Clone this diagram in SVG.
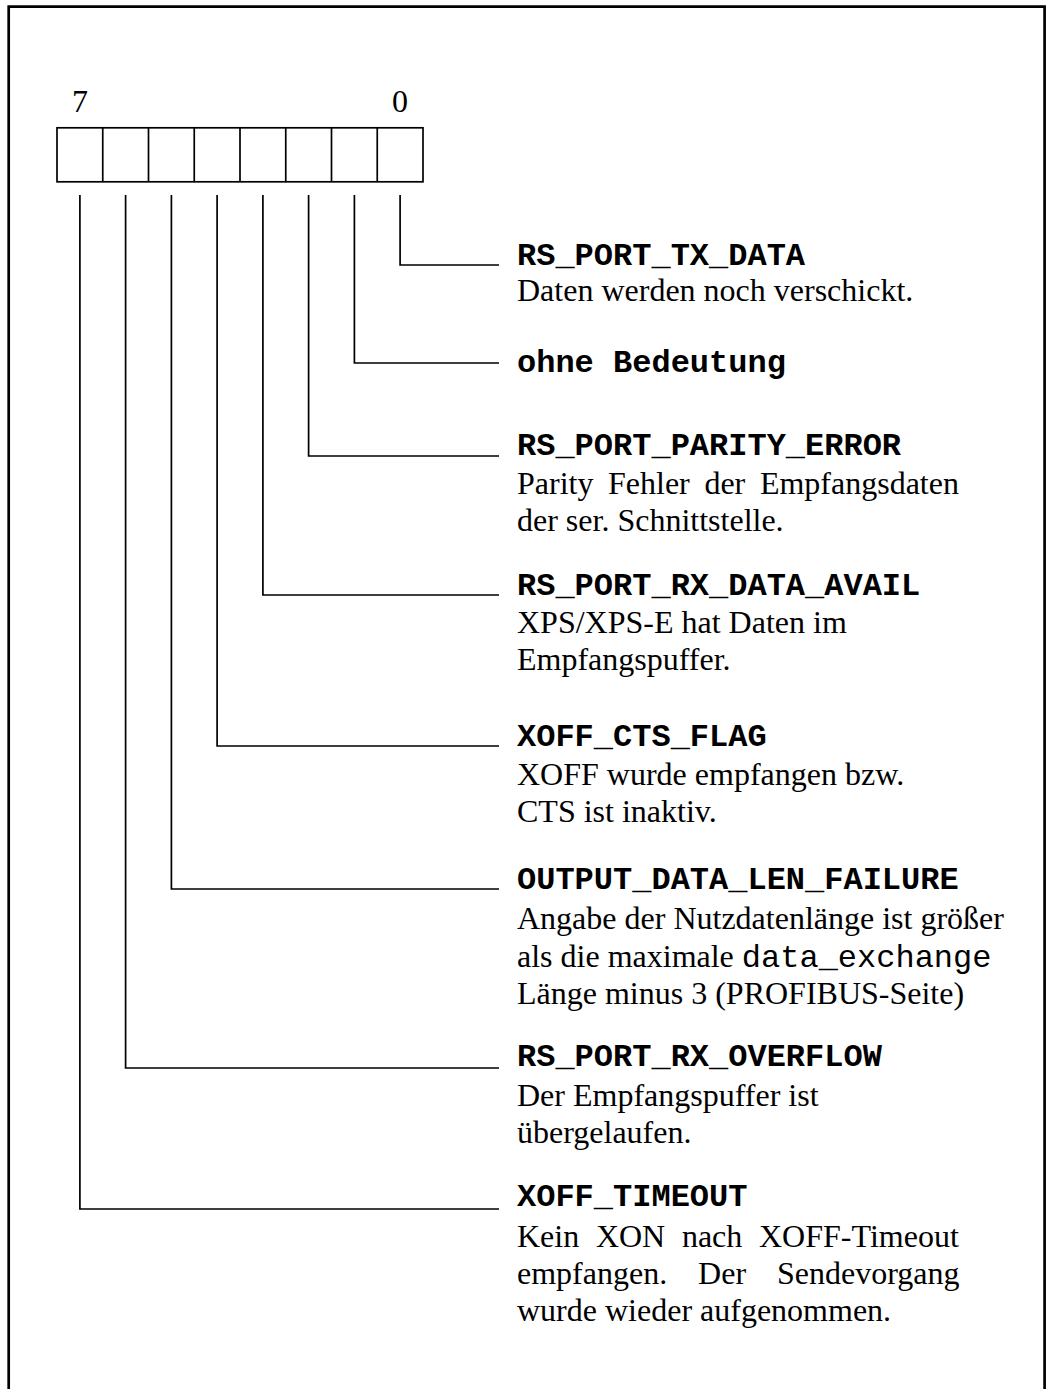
<svg xmlns="http://www.w3.org/2000/svg" width="1046" height="1389" viewBox="0 0 1046 1389">
<style>
.frame{fill:none;stroke:#000;stroke-width:2.7}
.reg{fill:#fff;stroke:#000;stroke-width:1.7}
.conn{fill:none;stroke:#000;stroke-width:1.7}
.mono{font-family:"Liberation Mono","Courier New",monospace;font-weight:bold;font-size:32px;fill:#000}
.monor{font-family:"Liberation Mono","Courier New",monospace;font-size:32px}
.serif{font-family:"Liberation Serif","Times New Roman",serif;font-size:32px;fill:#000}
</style>
<rect width="1046" height="1389" fill="#fff"/>
<path class="frame" d="M8.7,1392 V6.7 H1044.6 V1392"/>
<g id="register">
<rect class="reg" x="57" y="127.8" width="366" height="54"/>
<path class="reg" d="M102.75,127.8V181.8 M148.5,127.8V181.8 M194.25,127.8V181.8 M240,127.8V181.8 M285.75,127.8V181.8 M331.5,127.8V181.8 M377.25,127.8V181.8"/>
<text class="serif" x="79.9" y="112" text-anchor="middle">7</text>
<text class="serif" x="400.1" y="112" text-anchor="middle">0</text>
</g>
<g id="connectors">
<path class="conn" d="M400.1,195 V265 H499"/>
<path class="conn" d="M354.4,195 V363 H499"/>
<path class="conn" d="M308.6,195 V456 H499"/>
<path class="conn" d="M262.9,195 V595 H499"/>
<path class="conn" d="M217.1,195 V746 H499"/>
<path class="conn" d="M171.4,195 V889 H499"/>
<path class="conn" d="M125.6,195 V1068 H499"/>
<path class="conn" d="M79.9,195 V1209 H499"/>
</g>
<g id="bit0">
<text class="mono" x="517" y="265">RS_PORT_TX_DATA</text>
<text class="serif" x="517" y="301">Daten werden noch verschickt.</text>
</g>
<g id="bit1">
<text class="mono" x="517" y="372">ohne Bedeutung</text>
</g>
<g id="bit2">
<text class="mono" x="517" y="455">RS_PORT_PARITY_ERROR</text>
<text class="serif" y="494"><tspan x="517">Parity</tspan><tspan x="608">Fehler</tspan><tspan x="704.4">der</tspan><tspan x="759.9">Empfangsdaten</tspan></text>
<text class="serif" x="517" y="531">der ser. Schnittstelle.</text>
</g>
<g id="bit3">
<text class="mono" x="517" y="595">RS_PORT_RX_DATA_AVAIL</text>
<text class="serif" x="517" y="633">XPS/XPS-E hat Daten im</text>
<text class="serif" x="517" y="670">Empfangspuffer.</text>
</g>
<g id="bit4">
<text class="mono" x="517" y="746">XOFF_CTS_FLAG</text>
<text class="serif" x="517" y="785">XOFF wurde empfangen bzw.</text>
<text class="serif" x="517" y="822">CTS ist inaktiv.</text>
</g>
<g id="bit5">
<text class="mono" x="517" y="889">OUTPUT_DATA_LEN_FAILURE</text>
<text class="serif" x="517" y="929">Angabe der Nutzdatenlänge ist größer</text>
<text class="serif" x="517" y="967">als die maximale <tspan class="monor">data_exchange</tspan></text>
<text class="serif" x="517" y="1004">Länge minus 3 (PROFIBUS-Seite)</text>
</g>
<g id="bit6">
<text class="mono" x="517" y="1066">RS_PORT_RX_OVERFLOW</text>
<text class="serif" x="517" y="1106">Der Empfangspuffer ist</text>
<text class="serif" x="517" y="1143">übergelaufen.</text>
</g>
<g id="bit7">
<text class="mono" x="517" y="1206">XOFF_TIMEOUT</text>
<text class="serif" y="1247"><tspan x="517">Kein</tspan><tspan x="595.9">XON</tspan><tspan x="681.9">nach</tspan><tspan x="759">XOFF-Timeout</tspan></text>
<text class="serif" y="1284"><tspan x="517">empfangen.</tspan><tspan x="698.1">Der</tspan><tspan x="777">Sendevorgang</tspan></text>
<text class="serif" x="517" y="1321">wurde wieder aufgenommen.</text>
</g>
</svg>
